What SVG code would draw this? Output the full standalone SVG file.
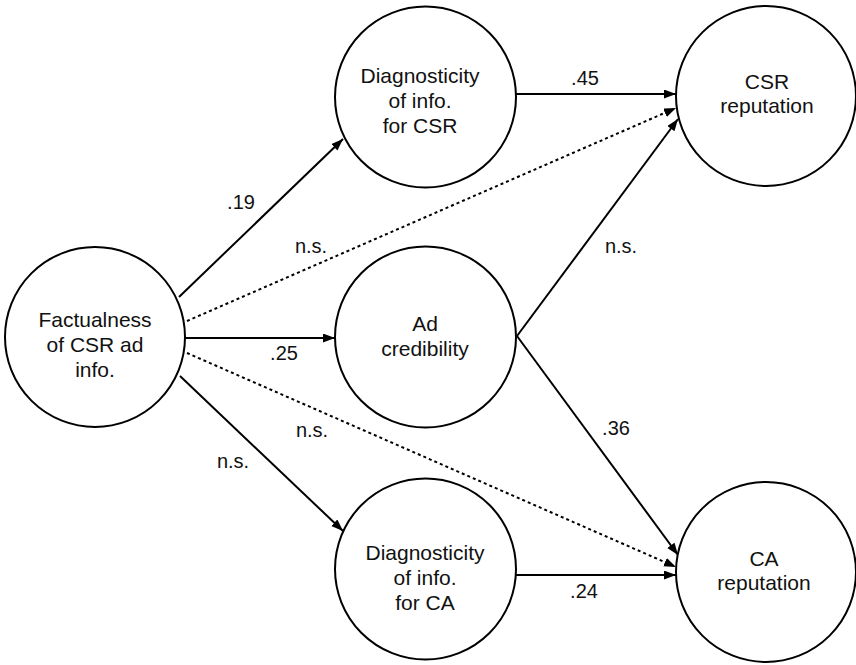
<svg xmlns="http://www.w3.org/2000/svg" width="856" height="665" viewBox="0 0 856 665">
  <defs>
    <marker id="arrow" markerUnits="userSpaceOnUse" markerWidth="13" markerHeight="10" refX="12" refY="4.5" orient="auto">
      <path d="M0,0 L12,4.5 L0,9 z" fill="#000"/>
    </marker>
  </defs>
  <style>
    .node circle { fill: #fff; stroke: #000; stroke-width: 2; }
    .node text { font-family: "Liberation Sans", Arial, sans-serif; font-size: 21px; fill: #111; text-anchor: middle; }
    .edge { stroke: #000; stroke-width: 2; fill: none; marker-end: url(#arrow); }
    .dotted { stroke-dasharray: 3 3; }
    .label { font-family: "Liberation Sans", Arial, sans-serif; font-size: 20px; fill: #111; text-anchor: middle; }
  </style>
  <rect width="856" height="665" fill="#fff"/>

  <g id="connectors">
    <line class="edge" x1="179" y1="297" x2="343" y2="139"/>
    <line class="edge dotted" x1="187" y1="321" x2="676" y2="108"/>
    <line class="edge" x1="185" y1="338" x2="335" y2="338"/>
    <line class="edge dotted" x1="187" y1="353" x2="676" y2="567"/>
    <line class="edge" x1="180" y1="376" x2="343" y2="531"/>
    <line class="edge" x1="516" y1="94" x2="676" y2="94"/>
    <line class="edge" x1="516" y1="575" x2="676" y2="575"/>
    <line class="edge" x1="517" y1="336" x2="678" y2="119"/>
    <line class="edge" x1="517" y1="336" x2="678" y2="555"/>
    <text class="label" x="241" y="209">.19</text>
    <text class="label" x="311" y="253">n.s.</text>
    <text class="label" x="284" y="360">.25</text>
    <text class="label" x="312" y="437">n.s.</text>
    <text class="label" x="233" y="468">n.s.</text>
    <text class="label" x="585" y="85">.45</text>
    <text class="label" x="584" y="598">.24</text>
    <text class="label" x="621" y="253">n.s.</text>
    <text class="label" x="616" y="435">.36</text>
  </g>

  <g id="factualness" class="node">
    <circle cx="95" cy="337" r="90"/>
    <text x="95" y="327">Factualness</text>
    <text x="95" y="352">of CSR ad</text>
    <text x="95" y="377">info.</text>
  </g>
  <g id="diag-csr" class="node">
    <circle cx="425.5" cy="97" r="90.5"/>
    <text x="420" y="83">Diagnosticity</text>
    <text x="420" y="108">of info.</text>
    <text x="420" y="133">for CSR</text>
  </g>
  <g id="ad-credibility" class="node">
    <circle cx="425.5" cy="337" r="90.5"/>
    <text x="425" y="331">Ad</text>
    <text x="425" y="356">credibility</text>
  </g>
  <g id="diag-ca" class="node">
    <circle cx="425.5" cy="569" r="90.5"/>
    <text x="425" y="560">Diagnosticity</text>
    <text x="425" y="585">of info.</text>
    <text x="425" y="610">for CA</text>
  </g>
  <g id="csr-reputation" class="node">
    <circle cx="766" cy="96" r="90"/>
    <text x="767" y="89">CSR</text>
    <text x="767" y="113">reputation</text>
  </g>
  <g id="ca-reputation" class="node">
    <circle cx="766" cy="572" r="90"/>
    <text x="764" y="566">CA</text>
    <text x="764" y="590">reputation</text>
  </g>
</svg>
